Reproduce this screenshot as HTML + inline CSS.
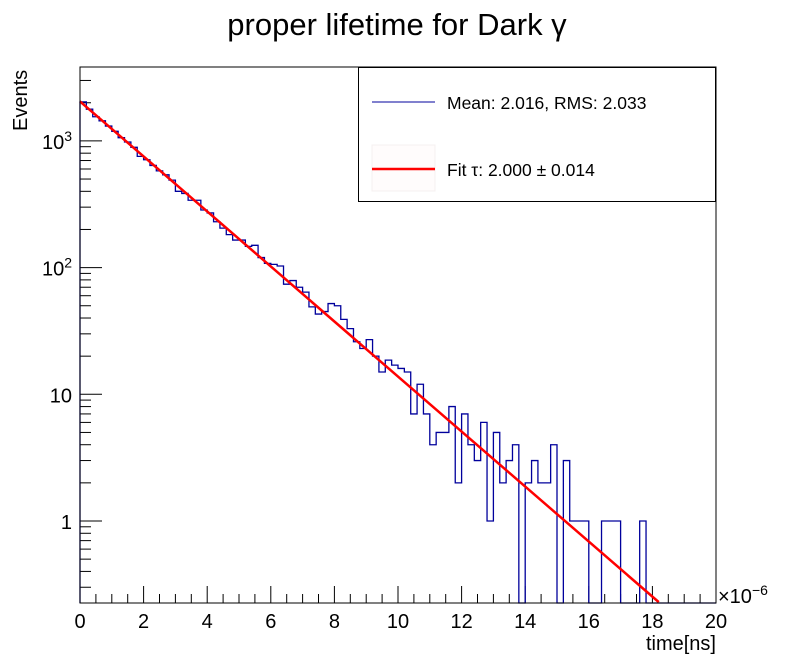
<!DOCTYPE html>
<html><head><meta charset="utf-8"><style>
html,body{margin:0;padding:0;background:#fff;}
svg{display:block;font-family:"Liberation Sans",sans-serif;}
</style></head><body>
<svg id="chart" width="796" height="672" viewBox="0 0 796 672">
<text x="397" y="35" font-size="31" text-anchor="middle">proper lifetime for Dark γ</text>
<g id="ticks"></g>
<g id="hist"></g>
<g id="fit"></g>
<rect x="80" y="67" width="636" height="536" fill="none" stroke="#000" stroke-width="1"/>
<text x="716" y="650" font-size="20" text-anchor="end">time[ns]</text>
<text x="718" y="603" font-size="20">×10<tspan dy="-8" font-size="14">−6</tspan></text>
<text transform="translate(27,131) rotate(-90)" font-size="20">Events</text>
<g>
<rect x="358.5" y="67.5" width="357" height="134" fill="#fff" stroke="#000"/>
<line x1="372" y1="102" x2="435" y2="102" stroke="#00009c" stroke-width="1"/>
<text x="447" y="109" font-size="17.5">Mean: 2.016, RMS: 2.033</text>
<rect x="372" y="145" width="63" height="46" fill="#fffcfc" stroke="#f6f0f0"/>
<line x1="372" y1="169" x2="435" y2="169" stroke="#f00" stroke-width="2.5"/>
<text x="447" y="176" font-size="17.5">Fit τ: 2.000 ± 0.014</text>
</g>
</svg>
<script>
const binCounts = [2030,1780,1550,1440,1310,1190,1060,980,890,755,710,640,580,540,490,400,385,340,340,285,270,230,205,182,165,165,147,150,120,108,106,103,74,79,70,64,49,43,45,52,50,39,33,26,23,27,20,15,18.6,17,16,15,7,12,7,4,5,5,8,2,7,4,3,6,1,5,2,3,4,0,2,3,2,2,4,0,3,1,1,1,0,0,1,1,1,0,0,0,1,0,0,0,0,0,0,0,0,0,0,0];
const xTickLabels = ["0","2","4","6","8","10","12","14","16","18","20"];
const yTickLabels = ["1","10","10²","10³"];
const fitN0 = [2050];
const fitTau = [2.0];

const NS="http://www.w3.org/2000/svg";
const X0=80,X1=716,Y0=603,Y1=67,xmin=0,xmax=20;
const yDec=126.7, yOne=521;
const xs=t=>X0+(t-xmin)/(xmax-xmin)*(X1-X0);
const ys=v=>{ if(v<=0) return Y0; const y=yOne-Math.log10(v)*yDec; return Math.min(Y0,Math.max(Y1,y)); };
function mk(tag,attrs,parent){const e=document.createElementNS(NS,tag);for(const k in attrs)e.setAttribute(k,attrs[k]);parent.appendChild(e);return e;}

const tg=document.getElementById('ticks');
for(let t=0;t<=20.001;t+=0.5){
  const major=Math.abs(t/2-Math.round(t/2))<1e-6;
  const l=mk('line',{x1:xs(t),x2:xs(t),y1:Y0,y2:Y0-(major?17:9),stroke:'#000'},tg);
  
  
}
xTickLabels.forEach((s,i)=>{
  const tx=mk('text',{x:xs(i*2),y:628,'font-size':20,'text-anchor':'middle'},tg);
  tx.textContent=s;
  
  
});
for(let d=-1;d<=3;d++){
  for(let m=1;m<=9;m++){
    const v=m*Math.pow(10,d); const y=yOne-Math.log10(v)*yDec;
    if(y>Y0||y<Y1) continue;
    const l=mk('line',{x1:X0,x2:X0+(m===1?22:11),y1:y,y2:y,stroke:'#000'},tg);
    
    
  }
}
yTickLabels.forEach((s,i)=>{
  const y=yOne-i*yDec;
  const tx=mk('text',{x:72,y:y+8,'font-size':20,'text-anchor':'end'},tg);
  if(s.length>2){tx.textContent=s.slice(0,2);const sp=mk('tspan',{dy:-8,'font-size':14},tx);sp.textContent=s.slice(2)==='²'?'2':'3';}
  else tx.textContent=s;
  
  
});

const hg=document.getElementById('hist');
const bw=(xmax-xmin)/binCounts.length;
let d=`M${xs(0)},${Y0}`;
binCounts.forEach((v,i)=>{const y=ys(v);d+=` L${xs(i*bw)},${y} L${xs((i+1)*bw)},${y}`;});
d+=` L${xs(xmax)},${Y0}`;
const hp=mk('path',{d:d,fill:'none',stroke:'#00009c','stroke-width':1.3},hg);



const fg=document.getElementById('fit');
let fd='';
for(let t=0;t<=20;t+=0.05){
  const v=fitN0[0]*Math.exp(-t/fitTau[0]);
  const y=yOne-Math.log10(v)*yDec;
  if(y>Y0) break;
  fd+=(fd?' L':'M')+xs(t)+','+y;
}
const fp=mk('path',{d:fd,fill:'none',stroke:'#f00','stroke-width':2.5},fg);


</script>
</body></html>
